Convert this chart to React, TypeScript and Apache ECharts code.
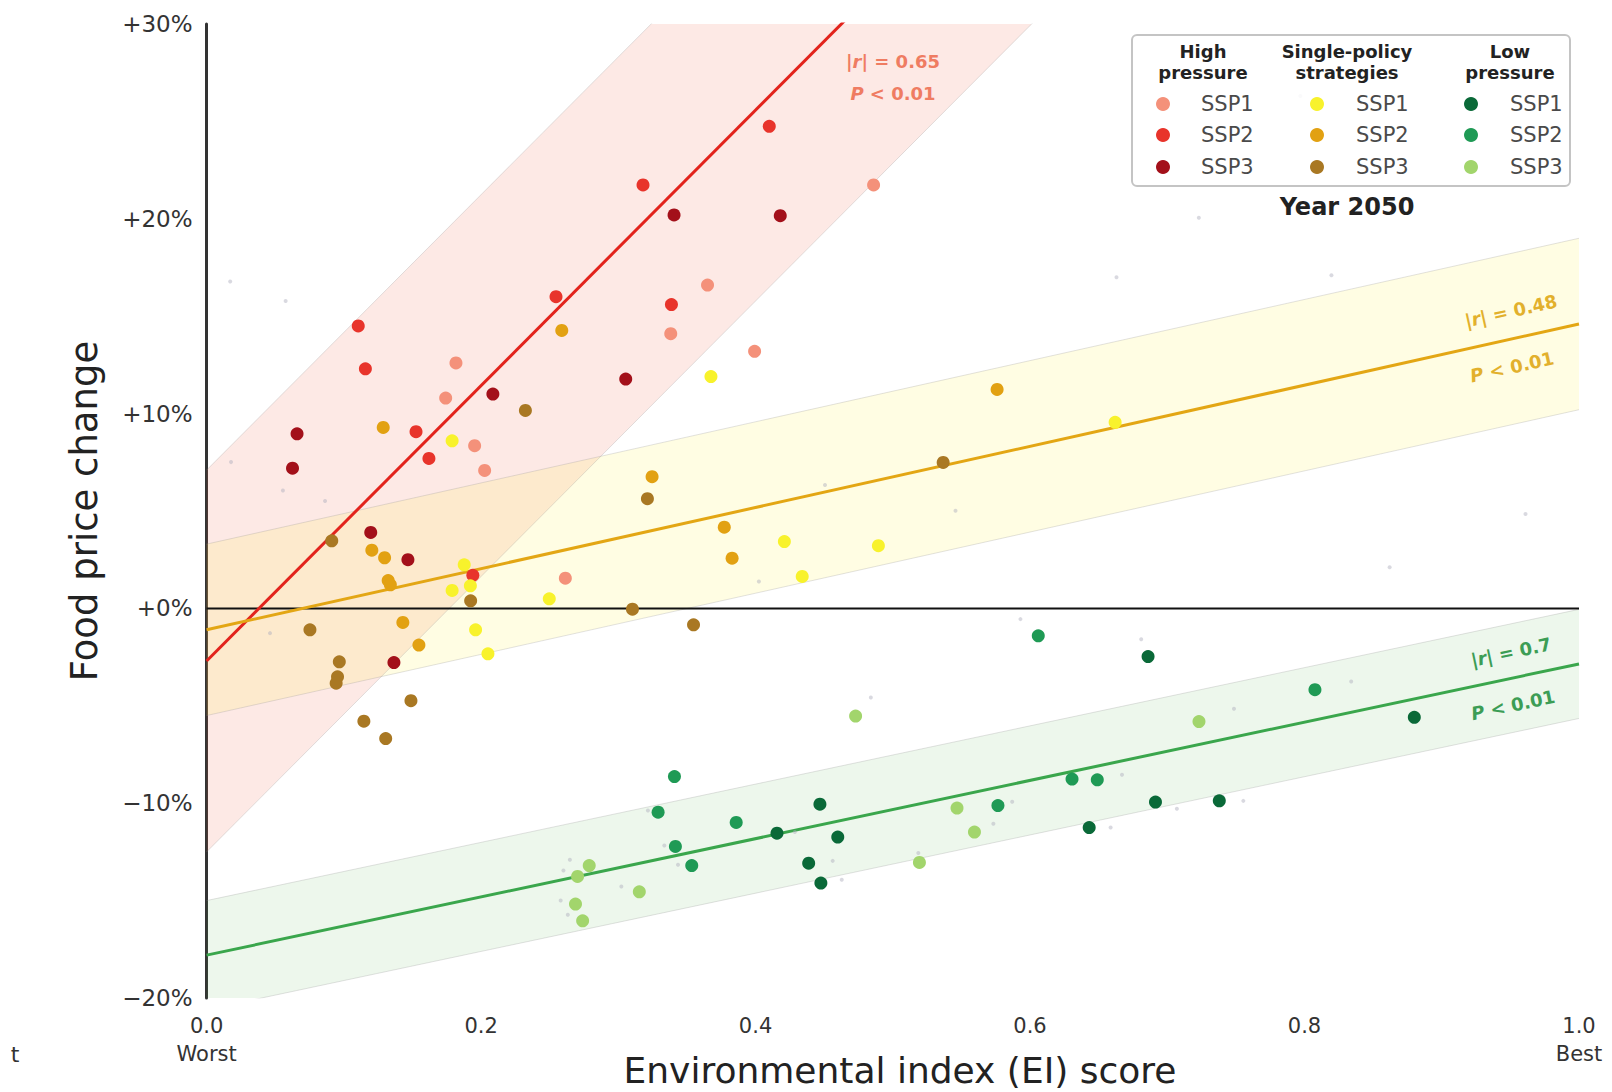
import React, { useEffect, useRef } from "react";
import * as echarts from "echarts";

// ---- axis ticks ----
const xTickValues = [0, 0.2, 0.4, 0.6, 0.8, 1.0];
const xTickExtra: Record<string, string> = { "0.0": "Worst", "1.0": "Best" };
const yTickValues = [-20, -10, 0, 10, 20, 30];

// ---- data: [EI score, food price change %] ----
const hpSSP1 = [[0.486,21.74],[0.365,16.6],[0.3382,14.1],[0.3993,13.2],[0.1817,12.6],[0.1742,10.8],[0.1953,8.35],[0.2026,7.08],[0.2614,1.55]];
const hpSSP2 = [[0.1105,14.5],[0.1157,12.3],[0.1526,9.07],[0.162,7.7],[0.3387,15.6],[0.2546,16.0],[0.194,1.7],[0.318,21.74],[0.41,24.75]];
const hpSSP3 = [[0.0659,8.96],[0.0626,7.2],[0.2086,11.0],[0.3054,11.77],[0.1196,3.9],[0.1467,2.5],[0.1365,-2.78],[0.3406,20.2],[0.418,20.16]];
const spSSP1 = [[0.3675,11.9],[0.1789,8.6],[0.1877,2.24],[0.1922,1.16],[0.1789,0.92],[0.2497,0.49],[0.196,-1.1],[0.205,-2.33],[0.662,9.55],[0.421,3.43],[0.4895,3.22],[0.434,1.64]];
const spSSP2 = [[0.2588,14.27],[0.1287,9.29],[0.3246,6.76],[0.3772,4.17],[0.3829,2.58],[0.1204,2.99],[0.1297,2.6],[0.1323,1.43],[0.1339,1.21],[0.143,-0.72],[0.1547,-1.88],[0.576,11.24]];
const spSSP3 = [[0.2323,10.16],[0.3212,5.63],[0.0912,3.47],[0.1924,0.39],[0.3103,-0.04],[0.3548,-0.84],[0.0753,-1.1],[0.0967,-2.74],[0.0954,-3.51],[0.0944,-3.84],[0.1489,-4.74],[0.1146,-5.79],[0.1305,-6.68],[0.5367,7.49]];
const lpSSP1 = [[0.686,-2.47],[0.88,-5.59],[0.4469,-10.05],[0.6914,-9.94],[0.7379,-9.88],[0.4156,-11.54],[0.4599,-11.74],[0.6431,-11.25],[0.4387,-13.08],[0.4476,-14.1]];
const lpSSP2 = [[0.606,-1.41],[0.8076,-4.17],[0.3409,-8.63],[0.6306,-8.76],[0.649,-8.8],[0.5766,-10.12],[0.329,-10.46],[0.3859,-10.99],[0.3416,-12.22],[0.3535,-13.2]];
const lpSSP3 = [[0.4729,-5.53],[0.7231,-5.81],[0.5468,-10.25],[0.5595,-11.48],[0.5194,-13.04],[0.2788,-13.2],[0.2703,-13.76],[0.3153,-14.55],[0.2688,-15.18],[0.274,-16.04]];
const grayPts = [[0.0172,16.78],[0.0576,15.78],[0.0178,7.51],[0.0556,6.05],[0.0863,5.51],[0.0462,-1.27],[0.4024,1.38],[0.4506,6.33],[0.5457,5.01],[0.663,17.0],[0.723,20.05],[0.8196,17.1],[0.797,26.3],[0.961,4.85],[0.862,2.11],[0.593,-0.55],[0.681,-1.58],[0.484,-4.57],[0.834,-3.75],[0.7486,-5.15],[0.667,-8.54],[0.587,-9.93],[0.7554,-9.88],[0.707,-10.29],[0.6587,-11.25],[0.5733,-11.06],[0.4286,-11.48],[0.4562,-12.96],[0.4628,-13.93],[0.3435,-13.16],[0.3335,-12.17],[0.3216,-10.37],[0.5186,-12.56],[0.2647,-12.9],[0.26,-13.45],[0.3022,-14.28],[0.258,-15.0],[0.2632,-15.73]];

// ---- regression fits: [intercept %, slope %/unit, band half-width %] ----
const redFit = [-2.7, 70.7, 9.8];
const yellowFit = [-1.1, 15.7, 4.4];
const greenFit = [-17.8, 14.95, 2.8];

const groupNames = ["High\npressure", "Single-policy\nstrategies", "Low\npressure"];
const sspNames = ["SSP1", "SSP2", "SSP3"];
const fitLabels = ["|r| = 0.65", "|r| = 0.48", "|r| = 0.7"];
const pLabel = "P < 0.01";
const yearLabel = "Year 2050";

const FONT = "DejaVu Sans";
const Y_MIN = -20, Y_MAX = 30;

const pointSets = [
  { name: "High pressure SSP1", data: hpSSP1, color: "#f4917a" },
  { name: "High pressure SSP2", data: hpSSP2, color: "#e8342b" },
  { name: "High pressure SSP3", data: hpSSP3, color: "#a3101a" },
  { name: "Single-policy SSP1", data: spSSP1, color: "#f8f22c" },
  { name: "Single-policy SSP2", data: spSSP2, color: "#e2a112" },
  { name: "Single-policy SSP3", data: spSSP3, color: "#a97823" },
  { name: "Low pressure SSP1", data: lpSSP1, color: "#0a6938" },
  { name: "Low pressure SSP2", data: lpSSP2, color: "#1f9a55" },
  { name: "Low pressure SSP3", data: lpSSP3, color: "#a2d56c" },
];

const fits = [
  { fit: redFit, line: "#e2231c", band: "rgba(240,100,70,0.14)", text: "#ef7c62" },
  { fit: yellowFit, line: "#e3a614", band: "rgba(255,240,80,0.16)", text: "#e2b02c" },
  { fit: greenFit, line: "#3aa64c", band: "rgba(90,180,80,0.11)", text: "#3c9d55" },
];

function clipPoly(pts: number[][], lo: number, hi: number) {
  const clip = (poly: number[][], keep: (p: number[]) => boolean, yc: number) => {
    const out: number[][] = [];
    for (let i = 0; i < poly.length; i++) {
      const a = poly[i], b = poly[(i + 1) % poly.length];
      const ia = keep(a), ib = keep(b);
      if (ia) out.push(a);
      if (ia !== ib) {
        const t = (yc - a[1]) / (b[1] - a[1]);
        out.push([a[0] + t * (b[0] - a[0]), yc]);
      }
    }
    return out;
  };
  let r = clip(pts, (p) => p[1] <= hi, hi);
  r = clip(r, (p) => p[1] >= lo, lo);
  return r;
}

export default function App() {
  const ref = useRef<HTMLDivElement>(null);
  useEffect(() => {
    if (!ref.current) return;
    const chart = echarts.init(ref.current, null, { renderer: "svg" });

    const series: any[] = [];
    // bands
    fits.forEach((f, i) => {
      const [b, m, h] = f.fit;
      series.push({
        type: "custom",
        name: "band" + i,
        z: 1,
        silent: true,
        data: [[0, 0]],
        renderItem: (_p: any, api: any) => {
          const poly = clipPoly([[0, b + h], [1, b + m + h], [1, b + m - h], [0, b - h]], Y_MIN, Y_MAX).map((p) => api.coord(p));
          return { type: "polygon", shape: { points: poly }, style: { fill: f.band, stroke: "none" } };
        },
      });
      [h, -h].forEach((off) => {
        series.push({
          type: "line",
          z: 2,
          silent: true,
          symbol: "none",
          clip: true,
          data: [[0, b + off], [1, b + m + off]],
          lineStyle: { color: "rgba(150,150,150,0.28)", width: 1 },
        });
      });
    });
    // zero line
    series.push({
      type: "line", z: 3, silent: true, symbol: "none",
      data: [[0, 0], [1, 0]],
      lineStyle: { color: "#111", width: 2 },
    });
    // regression lines
    fits.forEach((f) => {
      const [b, m] = f.fit;
      series.push({
        type: "line", z: 4, silent: true, symbol: "none", clip: true,
        data: [[0, b], [1, b + m]],
        lineStyle: { color: f.line, width: 3 },
      });
    });
    // gray faint points
    series.push({
      type: "scatter", z: 5, silent: true, symbolSize: 4,
      data: grayPts,
      itemStyle: { color: "rgba(175,175,190,0.6)" },
    });
    pointSets.forEach((s) => {
      series.push({
        type: "scatter", name: s.name, z: 6, symbolSize: 13,
        data: s.data,
        itemStyle: { color: s.color, opacity: 1 },
      });
    });

    // graphic: legend, labels, titles
    const g: any[] = [];
    g.push({
      type: "rect", z: 100,
      shape: { x: 1132, y: 35, width: 438, height: 151, r: 5 },
      style: { fill: "rgba(255,255,255,0.85)", stroke: "#c4c4c4", lineWidth: 2 },
    });
    const colCenters = [1203, 1347, 1510];
    const markerX = [1163, 1317, 1471];
    const textX = [1201, 1356, 1510];
    const rowsY = [104, 135, 167];
    groupNames.forEach((gn, c) => {
      const lines = gn.split("\n");
      lines.forEach((ln, k) => {
        g.push({
          type: "text", z: 101, x: colCenters[c], y: 51 + k * 21,
          style: { text: ln, fontFamily: FONT, fontSize: 18, fontWeight: "bold", fill: "#222", align: "center", verticalAlign: "middle" },
        });
      });
      sspNames.forEach((sn, r) => {
        g.push({
          type: "circle", z: 101,
          shape: { cx: markerX[c], cy: rowsY[r], r: 7 },
          style: { fill: pointSets[c * 3 + r].color },
        });
        g.push({
          type: "text", z: 101, x: textX[c], y: rowsY[r],
          style: { text: sn, fontFamily: FONT, fontSize: 21, fill: "#4a4a4a", align: "left", verticalAlign: "middle" },
        });
      });
    });
    g.push({
      type: "text", z: 101, x: 1347, y: 207,
      style: { text: yearLabel, fontFamily: FONT, fontSize: 24, fontWeight: "bold", fill: "#222", align: "center", verticalAlign: "middle" },
    });

    // fit annotations
    const annot = (txt: string, color: string, x: number, y: number, rot: number, italicFirst: boolean) => {
      let rich: string;
      if (italicFirst) {
        rich = "{n||}{i|r}{n|" + txt.slice(2) + "}";
      } else {
        rich = "{i|P}{n|" + txt.slice(1) + "}";
      }
      const base = { fontFamily: FONT, fontSize: 18, fontWeight: "bold", fill: color };
      g.push({
        type: "text", z: 90, x, y, rotation: rot,
        style: {
          text: rich, align: "center", verticalAlign: "middle",
          ...base,
          rich: { n: { ...base }, i: { ...base, fontStyle: "italic" } },
        },
      });
    };
    annot(fitLabels[0], fits[0].text, 893, 61, 0, true);
    annot(pLabel, fits[0].text, 893, 93, 0, false);
    const rotY = Math.atan((yellowFit[1] * 19.48) / 1372.5);
    const rotG = Math.atan((greenFit[1] * 19.48) / 1372.5);
    annot(fitLabels[1], fits[1].text, 1511, 311, rotY, true);
    annot(pLabel, fits[1].text, 1512, 367, rotY, false);
    annot(fitLabels[2], fits[2].text, 1511, 652, rotG, true);
    annot(pLabel, fits[2].text, 1513, 705, rotG, false);

    // axis titles
    g.push({
      type: "text", z: 90, x: 84, y: 511, rotation: Math.PI / 2,
      style: { text: "Food price change", fontFamily: FONT, fontSize: 37, fill: "#222", align: "center", verticalAlign: "middle" },
    });
    g.push({
      type: "text", z: 90, x: 900, y: 1070,
      style: { text: "Environmental index (EI) score", fontFamily: FONT, fontSize: 36, lineHeight: 38, fill: "#222", align: "center", verticalAlign: "middle" },
    });
    g.push({
      type: "text", z: 90, x: 15, y: 1054,
      style: { text: "t", fontFamily: FONT, fontSize: 22, fill: "#333", align: "center", verticalAlign: "middle" },
    });

    const option: any = {
      animation: false,
      backgroundColor: "#ffffff",
      textStyle: { fontFamily: FONT },
      grid: { left: 206.6, right: 33, top: 24, bottom: 94, containLabel: false },
      xAxis: {
        type: "value", min: xTickValues[0], max: xTickValues[xTickValues.length - 1], interval: 0.2,
        axisLine: { show: false }, axisTick: { show: false }, splitLine: { show: false },
        axisLabel: {
          fontFamily: FONT, fontSize: 21, color: "#333", margin: 14, lineHeight: 28,
          formatter: (v: number) => {
            const s = v.toFixed(1);
            return xTickExtra[s] ? s + "\n" + xTickExtra[s] : s;
          },
        },
      },
      yAxis: {
        type: "value", min: yTickValues[0], max: yTickValues[yTickValues.length - 1], interval: 10,
        axisLine: { show: true, lineStyle: { color: "#333", width: 3 } },
        axisTick: { show: false }, splitLine: { show: false },
        axisLabel: {
          fontFamily: FONT, fontSize: 23, color: "#333", margin: 14,
          formatter: (v: number) => (v >= 0 ? "+" + v + "%" : "\u2212" + Math.abs(v) + "%"),
        },
      },
      series,
      graphic: { elements: g },
    };
    chart.setOption(option);
    return () => chart.dispose();
  }, []);
  return <div ref={ref} style={{ position: "fixed", left: 0, top: 0, width: 1612, height: 1092, background: "#fff" }} />;
}
